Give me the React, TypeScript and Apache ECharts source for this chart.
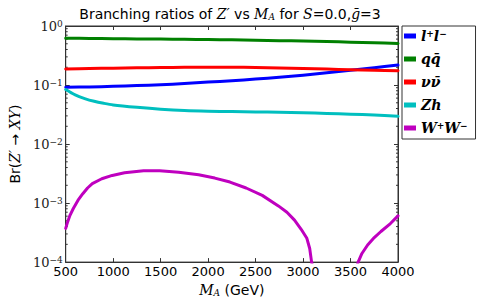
import React, { useEffect, useRef } from "react";
import * as echarts from "echarts";

// ---- data ----
const massMain = [500, 750, 1000, 1250, 1500, 1750, 2000, 2250, 2500, 2750, 3000, 3250, 3500, 3750, 4000];
const brLL = [0.092, 0.093, 0.095, 0.098, 0.101, 0.106, 0.112, 0.118, 0.126, 0.135, 0.147, 0.161, 0.178, 0.197, 0.218];
const brQQ = [0.62, 0.615, 0.61, 0.605, 0.6, 0.595, 0.59, 0.583, 0.575, 0.565, 0.555, 0.545, 0.533, 0.52, 0.505];
const brNuNu = [0.187, 0.19, 0.193, 0.196, 0.198, 0.2, 0.201, 0.2, 0.198, 0.195, 0.19, 0.186, 0.182, 0.178, 0.174];

const massZh = [500, 600, 700, 800, 900, 1000, 1250, 1500, 1750, 2000, 2250, 2500, 2750, 3000, 3250, 3500, 3750, 4000];
const brZh = [0.084, 0.068, 0.059, 0.053, 0.049, 0.046, 0.042, 0.039, 0.037, 0.036, 0.0355, 0.035, 0.0345, 0.034, 0.033, 0.032, 0.031, 0.0295];

const massWW = [500, 520, 545, 580, 630, 680, 730, 780, 880, 990, 1120, 1320, 1490, 1690, 1900, 2070, 2230, 2400, 2570, 2740, 2830, 2910, 2980, 3040, 3070, 3090, 3150, 3250, 3330, 3420, 3500, 3550, 3580, 3620, 3680, 3750, 3820, 3920, 4000];
const brWW = [3.73e-4, 4.8e-4, 6.2e-4, 8.1e-4, 1.12e-3, 1.44e-3, 1.8e-3, 2.13e-3, 2.58e-3, 2.94e-3, 3.26e-3, 3.52e-3, 3.52e-3, 3.34e-3, 3.01e-3, 2.65e-3, 2.27e-3, 1.8e-3, 1.35e-3, 8.96e-4, 7.0e-4, 5.14e-4, 3.6e-4, 2.53e-4, 1.7e-4, 1.0e-4, 4e-5, 8e-6, 1e-7, 8e-6, 3e-5, 6.5e-5, 1.0e-4, 1.4e-4, 1.95e-4, 2.6e-4, 3.3e-4, 4.5e-4, 6.08e-4];

const xMin = 500;
const xMax = 4000;
const xStep = 500;
const yExpMin = -4;
const yExpMax = 0;
const minorDigits = [2, 3, 4, 5, 6, 7, 8, 9];

const seriesNames = ["ll", "qq", "nunu", "Zh", "WW"];
const seriesColors = ["#0000ff", "#008000", "#ff0000", "#00bfbf", "#bf00bf"];
const legendLabels: Record<string, string> = {
  ll: "{m|l}{s|+}{m|l}{s|−}",
  qq: "{m|qq̄}",
  nunu: "{m|νν̄}",
  Zh: "{m|Zh}",
  WW: "{m|W}{s|+}{m|W}{s|−}",
};

const pairs = (xs: number[], ys: number[]) => xs.map((x, i) => [x, ys[i]]);

const minorTickValues: number[] = [];
for (let e = yExpMin; e < yExpMax; e++) {
  for (const d of minorDigits) minorTickValues.push(d * Math.pow(10, e));
}

const AXIS_COLOR = "#333";
const SERIF = "'DejaVu Serif', serif";
const SANS = "'DejaVu Sans', sans-serif";

export default function App() {
  const ref = useRef<HTMLDivElement>(null);

  useEffect(() => {
    document.body.style.margin = "0";
    if (!ref.current) return;
    const chart = echarts.init(ref.current, undefined, { renderer: "svg" });

    const mk = (i: number, xs: number[], ys: number[], smooth: number | boolean) => ({
      name: seriesNames[i],
      type: "line",
      data: pairs(xs, ys),
      showSymbol: false,
      smooth,
      lineStyle: { width: 3, color: seriesColors[i], join: "round", cap: "round" },
      itemStyle: { color: seriesColors[i] },
      clip: true,
    });

    const option: any = {
      animation: false,
      backgroundColor: "#fff",
      title: {
        text: "Branching ratios of {i|Z′} vs {i|M}{sub|A} for {i|S}=0.0,{i|ḡ}=3",
        left: 225,
        textAlign: "center",
        top: 2,
        textStyle: {
          fontFamily: SANS,
          fontSize: 14,
          fontWeight: "normal",
          color: "#000",
          rich: {
            i: { fontFamily: SERIF, fontStyle: "italic", fontSize: 14, color: "#000" },
            sub: { fontFamily: SERIF, fontStyle: "italic", fontSize: 9, color: "#000", verticalAlign: "bottom" },
          },
        },
      },
      legend: {
        orient: "vertical",
        left: 402,
        top: 26,
        data: seriesNames,
        icon: "rect",
        itemWidth: 12,
        itemHeight: 5,
        itemGap: 9,
        itemTextGap: 5,
        padding: [3, 8, 4, 2],
        borderColor: AXIS_COLOR,
        borderWidth: 1,
        backgroundColor: "#fff",
        formatter: (name: string) => legendLabels[name],
        textStyle: {
          fontSize: 14,
          lineHeight: 14,
          color: "#000",
          rich: {
            m: { fontFamily: SERIF, fontStyle: "italic", fontWeight: "bold", fontSize: 14, color: "#000" },
            s: { fontFamily: SERIF, fontWeight: "bold", fontSize: 9, color: "#000", verticalAlign: "top" },
          },
        },
      },
      grid: {
        left: 52,
        right: 93,
        top: 26,
        bottom: 38,
        show: true,
        borderColor: AXIS_COLOR,
        borderWidth: 1,
        backgroundColor: "#fff",
      },
      xAxis: [
        {
          type: "value",
          min: xMin,
          max: xMax,
          interval: xStep,
          position: "bottom",
          name: "{i|M}{sub|A} (GeV)",
          nameLocation: "middle",
          nameGap: 13,
          nameTextStyle: {
            fontFamily: SANS,
            fontSize: 14,
            color: "#000",
            rich: {
              i: { fontFamily: SERIF, fontStyle: "italic", fontSize: 14, color: "#000" },
              sub: { fontFamily: SERIF, fontStyle: "italic", fontSize: 9, color: "#000", verticalAlign: "bottom" },
            },
          },
          axisLine: { show: true, lineStyle: { color: AXIS_COLOR } },
          axisTick: { show: true, inside: true, length: 4, lineStyle: { color: AXIS_COLOR } },
          axisLabel: { fontFamily: SANS, fontSize: 13, color: "#000", margin: 3, formatter: (v: number) => String(v) },
          splitLine: { show: false },
        },
        {
          type: "value",
          min: xMin,
          max: xMax,
          interval: xStep,
          position: "top",
          axisLine: { show: true, lineStyle: { color: AXIS_COLOR } },
          axisTick: { show: true, inside: true, length: 4, lineStyle: { color: AXIS_COLOR } },
          axisLabel: { show: false },
          splitLine: { show: false },
        },
      ],
      yAxis: [
        {
          type: "log",
          logBase: 10,
          min: Math.pow(10, yExpMin),
          max: Math.pow(10, yExpMax),
          position: "left",
          name: "Br({i|Z′} → {i|XY})",
          nameLocation: "middle",
          nameRotate: 90,
          nameGap: 22,
          nameTextStyle: {
            fontFamily: SANS,
            fontSize: 14,
            color: "#000",
            rich: {
              i: { fontFamily: SERIF, fontStyle: "italic", fontSize: 14, color: "#000" },
            },
          },
          axisLine: { show: true, lineStyle: { color: AXIS_COLOR } },
          axisTick: { show: true, inside: true, length: 4, lineStyle: { color: AXIS_COLOR } },
          axisLabel: {
            margin: 3,
            formatter: (v: number) => {
              const e = Math.round(Math.log10(v));
              return `{b|10}{s|${e < 0 ? "−" + Math.abs(e) : e}}`;
            },
            rich: {
              b: { fontFamily: SERIF, fontSize: 13, color: "#222" },
              s: { fontFamily: SERIF, fontSize: 9, color: "#222", verticalAlign: "top" },
            },
          },
          splitLine: { show: false },
          minorTick: { show: false },
        },
        {
          type: "log",
          logBase: 10,
          min: Math.pow(10, yExpMin),
          max: Math.pow(10, yExpMax),
          position: "right",
          axisLine: { show: true, lineStyle: { color: AXIS_COLOR } },
          axisTick: { show: true, inside: true, length: 4, lineStyle: { color: AXIS_COLOR } },
          axisLabel: { show: false },
          splitLine: { show: false },
        },
      ],
      series: [
        mk(0, massMain, brLL, 0.3),
        mk(1, massMain, brQQ, 0.3),
        mk(2, massMain, brNuNu, 0.3),
        mk(3, massZh, brZh, 0.3),
        mk(4, massWW, brWW, false),
        {
          name: "minorTicks",
          type: "custom",
          silent: true,
          clip: false,
          data: minorTickValues.map((v) => [xMin, v]),
          renderItem: (_params: any, api: any) => {
            const v = api.value(1);
            const l = api.coord([xMin, v]);
            const r = api.coord([xMax, v]);
            return {
              type: "group",
              children: [
                { type: "line", shape: { x1: l[0], y1: l[1], x2: l[0] + 2, y2: l[1] }, style: { stroke: AXIS_COLOR, lineWidth: 1 } },
                { type: "line", shape: { x1: r[0] - 2, y1: r[1], x2: r[0], y2: r[1] }, style: { stroke: AXIS_COLOR, lineWidth: 1 } },
              ],
            };
          },
        },
      ],
    };

    chart.setOption(option);
    return () => chart.dispose();
  }, []);

  return <div ref={ref} style={{ width: 491, height: 302 }} />;
}
